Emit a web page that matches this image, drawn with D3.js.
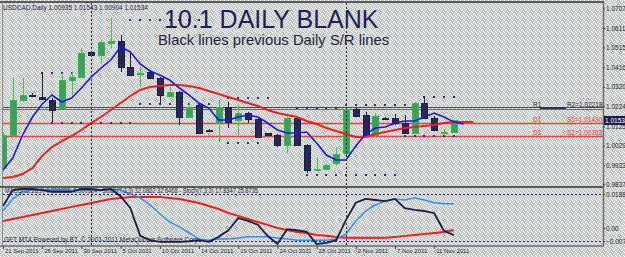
<!DOCTYPE html>
<html>
<head>
<meta charset="utf-8">
<script src="https://cdn.jsdelivr.net/npm/d3@7"></script>
<style>
body{margin:0;background:#cdd1d1}
svg{display:block}
text{font-family:"Liberation Sans",Arial,sans-serif}
</style>
</head>
<body>
<svg id="chart" width="625" height="257"></svg>
<script>
// USDCAD daily bars (incl. Sunday bars)
var dates = ["2011-09-21","2011-09-22","2011-09-23","2011-09-25","2011-09-26","2011-09-27","2011-09-28","2011-09-29","2011-09-30",
  "2011-10-02","2011-10-03","2011-10-04","2011-10-05","2011-10-06","2011-10-07","2011-10-09","2011-10-10","2011-10-11","2011-10-12",
  "2011-10-13","2011-10-14","2011-10-16","2011-10-17","2011-10-18","2011-10-19","2011-10-20","2011-10-21","2011-10-23","2011-10-24",
  "2011-10-25","2011-10-26","2011-10-27","2011-10-28","2011-10-30","2011-10-31","2011-11-01","2011-11-02","2011-11-03","2011-11-04",
  "2011-11-06","2011-11-07","2011-11-08","2011-11-09","2011-11-10","2011-11-11","2011-11-13","2011-11-14"];
var opens = [0.99179,1.00813,1.02546,1.02793,1.02694,1.02546,1.02150,1.03536,1.03684,1.04922,1.04773,1.05367,1.05466,1.04179,1.03833,1.03932,
  1.03635,1.02744,1.02942,1.01704,1.02298,1.01061,1.01457,1.02199,1.01556,1.01902,1.01605,1.00912,1.00813,1.00318,1.01655,1.00318,
  0.99105,0.99130,0.99427,0.99922,1.02100,1.01803,1.00813,1.01655,1.01655,1.01407,1.00912,1.02397,1.01655,1.00912,1.00935];
var highs = [1.00962,1.03635,1.03635,1.02892,1.03882,1.02645,1.03882,1.03932,1.05120,1.04971,1.05516,1.06605,1.05763,1.04872,1.04179,1.04031,
  1.03684,1.03288,1.02991,1.02447,1.02397,1.01110,1.02546,1.02447,1.02298,1.01952,1.01655,1.00937,1.00863,1.01902,1.01704,1.00368,
  0.99674,0.99377,1.00219,1.02150,1.02150,1.01952,1.01902,1.01704,1.01853,1.01803,1.02447,1.02694,1.01754,1.01110,1.01543];
var lows = [0.98981,1.00714,1.02447,1.02694,1.02546,1.01457,1.02100,1.02793,1.03635,1.04724,1.04377,1.05120,1.03932,1.03734,1.03189,1.03585,
  1.02397,1.02694,1.01308,1.01655,1.00863,1.01011,1.00467,1.01160,1.00813,1.01407,1.00664,1.00764,1.00219,0.99922,1.00269,0.98932,
  0.99080,0.99080,0.99278,0.99823,1.01704,1.00764,1.00714,1.01605,1.01308,1.00863,1.00863,1.01605,1.01011,1.00764,1.00904];
var closes = [1.00813,1.02546,1.02793,1.02768,1.02595,1.02051,1.03536,1.03684,1.04872,1.04773,1.05417,1.05466,1.04179,1.03783,1.03882,1.03635,
  1.02793,1.02942,1.01704,1.02199,1.00912,1.01036,1.02199,1.01457,1.01902,1.01605,1.00714,1.00813,1.00318,1.01655,1.00318,0.99080,
  0.99130,0.99328,0.99872,1.02100,1.01754,1.00813,1.01754,1.01630,1.01407,1.00912,1.02397,1.01655,1.01061,1.00937,1.01534];

// moving averages (shifted, so they run a bar or two past the last candle)
var maFast = [0.99081,0.99675,1.00813,1.01704,1.02348,1.02793,1.02447,1.02645,1.0314,1.03684,1.0413,1.04526,1.0517,1.04922,1.04328,1.03981,
  1.03783,1.03536,1.0314,1.02793,1.02397,1.0215,1.01556,1.01556,1.01704,1.01803,1.01704,1.01407,1.01061,1.00912,1.00912,1.00962,
  1.00417,0.99823,0.99576,0.99576,1.00269,1.00863,1.0116,1.01209,1.01407,1.01506,1.01506,1.01704,1.01902,1.01704,1.01457,1.01358];
var maSlow = [0.98685,0.98734,0.98883,0.99179,0.99774,1.00219,1.00516,1.00764,1.01061,1.01407,1.01704,1.02051,1.02397,1.02744,1.03041,1.03189,
  1.03239,1.03288,1.03288,1.03239,1.0314,1.02991,1.02843,1.02694,1.02546,1.02397,1.02249,1.02051,1.01902,1.01803,1.01704,1.01506,
  1.01358,1.0116,1.01011,1.00863,1.00714,1.00714,1.00863,1.00962,1.01061,1.0116,1.01209,1.01259,1.01308,1.01407,1.01457,1.01457,1.01457];

// sub window
var macd = [0.0039,0.005,0.0061,0.0072,0.0083,0.0094,0.0105,0.0117,0.0128,0.0139,0.015,0.0161,0.0166,0.0172,0.0172,0.0172,0.0172,0.0166,
  0.0161,0.015,0.0139,0.0122,0.0105,0.0083,0.0067,0.005,0.0033,0.0017,0,-0.0011,-0.0022,-0.0028,-0.0039,-0.0044,-0.005,-0.0055,-0.0055,
  -0.0055,-0.0055,-0.0055,-0.005,-0.0044,-0.0039,-0.0033,-0.0028,-0.0022,-0.0011];
var stochSlow = [60,82,95,98,98,98,98,98,98,98,98,100,98,91,84,71,55,40,31,20,9,7,9,9,11,13,13,13,11,9,7,7,7,7,9,18,42,60,71,78,82,80,84,80,75,73,73];
var stochFast = [69,98,100,100,98,95,95,95,100,100,98,100,87,65,15,7,4,4,4,5,7,4,13,25,47,42,35,15,0,27,25,22,0,2,7,44,75,82,80,78,82,65,62,60,56,24,16];

// dotted high/low rows: [first bar, last bar, price]
var dotRows = [[4,7,1.03882],[5,13,1.01407],[13,20,1.06506],[14,21,1.02348],[23,27,1.02645],[23,26,1.00417],[30,34,1.0215],
  [31,40,0.98833],[35,42,1.02298],[41,46,1.00764],[43,46,1.02694]];

var resLevels = [1.02218, 1.0209];
var supLevels = [1.01430, 1.00763];
var priceTicks = [1.07070,1.06110,1.05150,1.04160,1.03200,1.02240,1.01250,1.00290,0.99330,0.98370];
var subTicks = [0.01886, 0, -0.00725];
var dateTicks = [0,4,8,12,16,20,24,28,32,36,40,44];

var svg = d3.select("#chart");
var defs = svg.append("defs");
var pat = defs.append("pattern").attr("id","dots").attr("width",4).attr("height",4).attr("patternUnits","userSpaceOnUse");
pat.append("rect").attr("width",4).attr("height",4).attr("fill","#c7cbcb");
[[0,0],[2,1],[1,2],[3,3]].forEach(function(p){
  pat.append("rect").attr("x",p[0]).attr("y",p[1]).attr("width",1).attr("height",1).attr("fill","#ffffff");
});
defs.append("clipPath").attr("id","clipMain").append("rect").attr("x",3).attr("y",3).attr("width",600).attr("height",183);
defs.append("clipPath").attr("id","clipSub").append("rect").attr("x",3).attr("y",188).attr("width",600).attr("height",57);

svg.append("rect").attr("width",625).attr("height",257).attr("fill","url(#dots)");

var x = d3.scaleLinear().domain([0, 46]).range([3, 453.8]);
var y = d3.scaleLinear().domain([0.98370, 1.07070]).range([184.4, 8.6]);
var yMacd = d3.scaleLinear().domain([-0.00725, 0.01886]).range([241, 194]);
var yStoch = d3.scaleLinear().domain([0, 100]).range([244, 189]);

var parse = d3.timeParse("%Y-%m-%d");
var fmt = d3.timeFormat("%-d %b %Y");

var main = svg.append("g").attr("clip-path","url(#clipMain)");
var sub = svg.append("g").attr("clip-path","url(#clipSub)");

// previous daily S/R lines
main.selectAll(".res").data(resLevels).enter().append("line")
  .attr("x1",3).attr("x2",603).attr("y1",function(d){return Math.round(y(d))+0.5;}).attr("y2",function(d){return Math.round(y(d))+0.5;})
  .attr("stroke",function(d,i){return i==0 ? "#4a4a4a" : "#6a6a6a";}).attr("stroke-width",1);
main.selectAll(".sup").data(supLevels).enter().append("line")
  .attr("x1",3).attr("x2",603).attr("y1",function(d){return Math.round(y(d))+0.5;}).attr("y2",function(d){return Math.round(y(d))+0.5;})
  .attr("stroke","#ff3b3b").attr("stroke-width",1.3);

// month separators
var seps = d3.range(1, dates.length).filter(function(i){return dates[i].slice(5,7) != dates[i-1].slice(5,7);});
svg.selectAll(".sep").data(seps).enter().append("line")
  .attr("x1",function(d){return Math.round(x(d))+0.5;}).attr("x2",function(d){return Math.round(x(d))+0.5;})
  .attr("y1",3).attr("y2",246).attr("stroke","#333").attr("stroke-dasharray","2,2");

// dots
dotRows.forEach(function(r){
  main.selectAll(null).data(d3.range(r[0], r[1]+1)).enter().append("rect")
    .attr("x",function(d){return Math.round(x(d))-1;}).attr("y",Math.round(y(r[2]))-1)
    .attr("width",2).attr("height",2).attr("fill","#2b2b8c");
});

// candles
var bars = main.selectAll(".bar").data(dates).enter().append("g").attr("shape-rendering","crispEdges");
bars.append("line")
  .attr("x1",function(d,i){return Math.round(x(i))+0.5;}).attr("x2",function(d,i){return Math.round(x(i))+0.5;})
  .attr("y1",function(d,i){return y(highs[i]);}).attr("y2",function(d,i){return y(lows[i]);})
  .attr("stroke",function(d,i){return closes[i] >= opens[i] ? "#3bd13b" : "#1d1d48";});
bars.append("rect")
  .attr("x",function(d,i){return Math.round(x(i))-2.5;})
  .attr("y",function(d,i){return y(Math.max(opens[i],closes[i]));})
  .attr("width",6)
  .attr("height",function(d,i){return Math.max(1, Math.abs(y(opens[i])-y(closes[i])));})
  .attr("fill",function(d,i){return closes[i] >= opens[i] ? "#3c9f5e" : "#27285a";})
  .attr("stroke",function(d,i){return closes[i] >= opens[i] ? "#2dc040" : "#1d1d48";});

var line = d3.line().x(function(d,i){return x(i);});
main.append("path").datum(maSlow).attr("d",line.y(function(d){return y(d);}))
  .attr("fill","none").attr("stroke","#ff1a1a").attr("stroke-width",2);
main.append("path").datum(maFast).attr("d",line.y(function(d){return y(d);}))
  .attr("fill","none").attr("stroke","#1515ff").attr("stroke-width",1.6);

// labels of the S/R lines
var lbl = svg.append("g").attr("font-size",6.5);
lbl.append("line").attr("x1",540).attr("x2",566).attr("y1",y(resLevels[0])+1.5).attr("y2",y(resLevels[0])+1.5)
  .attr("stroke","#1e1e6e").attr("stroke-width",1.5);
lbl.append("text").attr("x",533).attr("y",y(resLevels[0])).attr("fill","#2a2a3a").text("R1");
lbl.append("text").attr("x",567).attr("y",y(resLevels[0])).attr("fill","#2a2a3a").text("R2=" + resLevels[0].toFixed(5));
supLevels.forEach(function(s,i){
  lbl.append("text").attr("x",533).attr("y",y(s)-1).attr("fill","#ff3030").text("D1");
  lbl.append("text").attr("x",567).attr("y",y(s)-1).attr("fill","#ff3030").text("S" + (i+1) + "=" + s.toFixed(5));
});

// sub window
sub.selectAll(".lev").data([subTicks[0], subTicks[2]]).enter().append("line")
  .attr("x1",3).attr("x2",603).attr("y1",function(d){return Math.round(yMacd(d))+0.5;}).attr("y2",function(d){return Math.round(yMacd(d))+0.5;})
  .attr("stroke","#2626a0").attr("stroke-dasharray","2,2");
sub.append("path").datum(macd).attr("d",line.y(function(d){return yMacd(d);}))
  .attr("fill","none").attr("stroke","#ff1a1a").attr("stroke-width",2);
sub.append("path").datum(stochSlow).attr("d",line.y(function(d){return yStoch(d);}))
  .attr("fill","none").attr("stroke","#2e8fff").attr("stroke-width",1.5);
sub.append("path").datum(stochFast).attr("d",line.y(function(d){return yStoch(d);}))
  .attr("fill","none").attr("stroke","#1c1c48").attr("stroke-width",1.8);

// frame
svg.append("line").attr("x1",0).attr("x2",604).attr("y1",2).attr("y2",2).attr("stroke","#5a5a5a").attr("stroke-width",2);
svg.append("line").attr("x1",2.5).attr("x2",2.5).attr("y1",2).attr("y2",246).attr("stroke","#8a8a8a");
svg.append("line").attr("x1",0).attr("x2",604).attr("y1",187).attr("y2",187).attr("stroke","#5a5a5a").attr("stroke-width",2);
svg.append("line").attr("x1",0).attr("x2",604).attr("y1",246).attr("y2",246).attr("stroke","#6a6a6a").attr("stroke-width",1.5);
svg.append("line").attr("x1",603.5).attr("x2",603.5).attr("y1",2).attr("y2",246).attr("stroke","#6a6a6a").attr("stroke-width",1.5);

// price axis
var pAxis = svg.append("g").attr("transform","translate(603,0)")
  .call(d3.axisRight(y).tickValues(priceTicks).tickFormat(d3.format(".5f")).tickSize(2).tickPadding(1));
pAxis.select(".domain").remove();
pAxis.selectAll("text").attr("font-size",6.5).attr("fill","#1e1e1e").attr("font-family","Liberation Sans, Arial, sans-serif");
pAxis.selectAll("line").attr("stroke","#444");

var sAxis = svg.append("g").attr("transform","translate(603,0)")
  .call(d3.axisRight(yMacd).tickValues(subTicks).tickFormat(function(d){return d == 0 ? "0.00" : d3.format(".5f")(d);}).tickSize(2).tickPadding(1));
sAxis.select(".domain").remove();
sAxis.selectAll("text").attr("font-size",6.5).attr("fill","#1e1e1e").attr("font-family","Liberation Sans, Arial, sans-serif");
sAxis.selectAll("line").attr("stroke","#444");

// current price box
var last = closes[closes.length-1];
svg.append("rect").attr("x",604).attr("y",y(last)-4.5).attr("width",21).attr("height",9).attr("fill","#1b1b4c");
svg.append("text").attr("x",605).attr("y",y(last)+2.3).attr("font-size",6.5).attr("fill","#fff").text(last.toFixed(5));

// date axis
var dAxis = svg.append("g").attr("transform","translate(0,246)")
  .call(d3.axisBottom(x).tickValues(dateTicks).tickFormat(function(i){return fmt(parse(dates[i]));}).tickSize(3));
dAxis.select(".domain").remove();
dAxis.selectAll("line").attr("stroke","#444");
dAxis.selectAll("text").attr("text-anchor","start").attr("x",1.5).attr("y",2.5)
  .attr("font-size",6).attr("fill","#1e1e1e").attr("font-family","Liberation Sans, Arial, sans-serif");

// texts
svg.append("text").attr("x",3).attr("y",10).attr("font-size",6.5).attr("fill","#262640")
  .text("USDCAD,Daily  " + [opens, highs, lows, closes].map(function(a){return a[a.length-1].toFixed(5);}).join(" "));
svg.append("text").attr("x",164).attr("y",28).attr("font-size",25).attr("fill","#1c1c5e").text("10.1 DAILY BLANK");
svg.append("text").attr("x",158).attr("y",45).attr("font-size",14.8).attr("fill","#1e1e3c").text("Black lines previous Daily S/R lines");
svg.append("text").attr("x",5).attr("y",193).attr("font-size",6.5).attr("fill","#262640")
  .attr("textLength",253).attr("lengthAdjust","spacingAndGlyphs")
  .text("MACD(12,26,9) 0.000003 -0.000924 - Stoch(7,3,3) 32.0862 32.6468 - Stoch(7,3,3) 17.8347 25.8735");
svg.append("text").attr("x",4).attr("y",242).attr("font-size",6.5).attr("fill","#262640")
  .text("GFT MT4 Powered by BT, \u00a9 2001-2011 MetaQuotes Software Corp.");
</script>
</body>
</html>
